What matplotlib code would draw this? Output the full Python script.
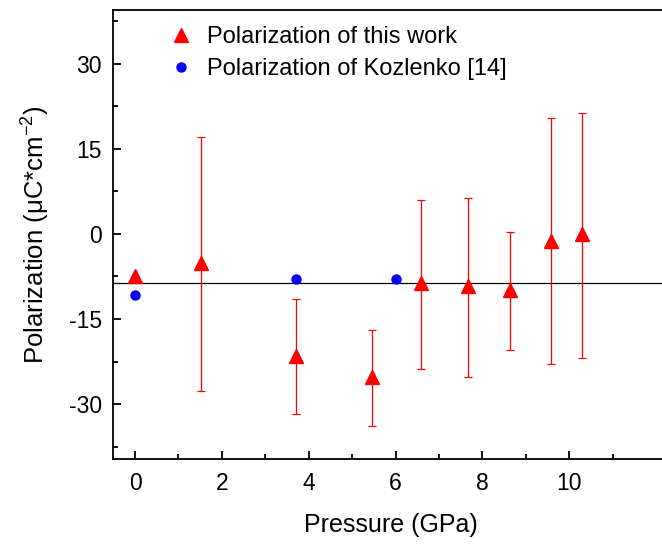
import matplotlib
matplotlib.use("Agg")
import matplotlib.pyplot as plt
from matplotlib.ticker import FixedLocator, MultipleLocator

plt.rcParams['font.family'] = ['Liberation Sans', 'DejaVu Sans']
plt.rcParams['axes.unicode_minus'] = False

# Data: this work
p_work = [0.0, 1.52, 3.70, 5.45, 6.58, 7.67, 8.63, 9.58, 10.29]
pol_work = [-7.4, -5.2, -21.5, -25.3, -8.7, -9.2, -9.8, -1.2, 0.0]
err_low = [0.0, 22.5, 10.2, 8.6, 15.1, 16.0, 10.6, 21.7, 21.8]
err_high = [0.0, 22.3, 10.0, 8.3, 14.7, 15.6, 10.2, 21.6, 21.3]

# Data: Kozlenko [14]
p_koz = [0.0, 3.70, 6.0]
pol_koz = [-10.8, -8.0, -8.0]

mean_level = -8.6

x_major = [0, 2, 4, 6, 8, 10]
x_minor = [1, 3, 5, 7, 9, 11]

fig = plt.figure(figsize=(6.62, 5.46), dpi=100)
ax = fig.add_axes([0.1707, 0.1593, 0.84, 0.8224])

ax.axhline(mean_level, color='black', lw=0.9, zorder=1)
ax.errorbar(p_work, pol_work, yerr=[err_low, err_high], fmt='none',
            ecolor='red', elinewidth=0.9, capsize=3.2, capthick=0.9, zorder=2)
ax.plot(p_work, pol_work, linestyle='none', marker='^', color='red',
        markersize=10, label='Polarization of this work', zorder=3)
ax.plot(p_koz, pol_koz, linestyle='none', marker='o', color='blue',
        markersize=6.5, label='Polarization of Kozlenko [14]', zorder=3)

ax.set_xlim(-0.507, 12.3)
ax.set_ylim(-39.7, 39.5)
ax.xaxis.set_major_locator(FixedLocator(x_major))
ax.xaxis.set_minor_locator(FixedLocator(x_minor))
ax.yaxis.set_major_locator(MultipleLocator(15))
ax.yaxis.set_minor_locator(MultipleLocator(7.5))
ax.tick_params(which='both', direction='in', top=False, right=False, width=1.3, labelsize=16.5)
ax.tick_params(which='major', length=6)
ax.tick_params(which='minor', length=3.5)
ax.tick_params(axis='x', pad=9)
ax.tick_params(axis='y', pad=8)
for s in ['left', 'bottom', 'top']:
    ax.spines[s].set_linewidth(1.3)
ax.spines['right'].set_visible(False)

ax.set_xlabel('Pressure (GPa)', fontsize=18, labelpad=13)
ax.set_ylabel('Polarization (μC*cm$^{\\mathregular{-2}}$)', fontsize=18.5, labelpad=13)

leg = ax.legend(loc='upper left', bbox_to_anchor=(0.071, 0.995), frameon=False,
                fontsize=17, handletextpad=0.5, labelspacing=0.42,
                handlelength=1.2, borderaxespad=0.2)

fig.savefig('out.png', dpi=100)
